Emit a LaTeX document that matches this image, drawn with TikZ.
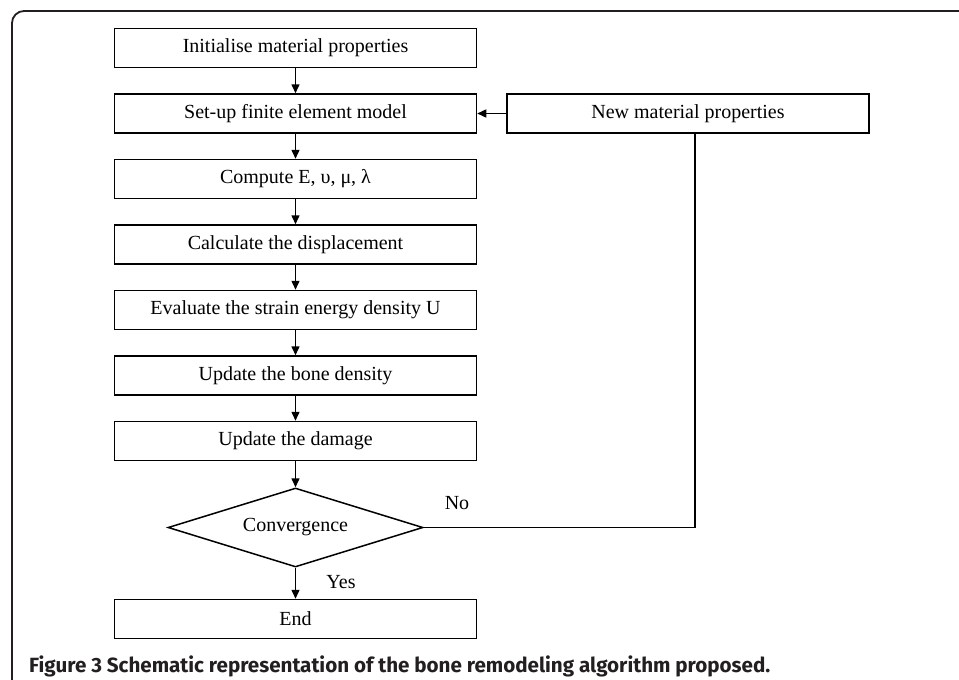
\documentclass[tikz,border=0pt]{standalone}
\usepackage{fontspec}
\setmainfont{Liberation Serif}
\newfontfamily\capfont{Fira Sans}
\usetikzlibrary{positioning,shapes.geometric,arrows.meta}
\definecolor{framegray}{HTML}{231F20}

\tikzset{
  box/.style={draw, line width=1.5pt, minimum width=362pt, minimum height=39pt,
    inner sep=0pt, font=\fontsize{20}{22}\selectfont},
  decision/.style={draw, diamond, line width=1.5pt, aspect=3.2, minimum width=255pt,
    minimum height=79pt, inner sep=0pt, font=\fontsize{20}{22}\selectfont},
  flow/.style={line width=1.5pt, -{Triangle[length=9pt,width=8pt]}},
  lbl/.style={font=\fontsize{20}{22}\selectfont},
}

\begin{document}
\begin{tikzpicture}[x=1pt, y=-1pt, node distance=25pt]
  \useasboundingbox (0,0) rectangle (959,680);
  \clip (0,0) rectangle (959,680);
  % Frame
  \draw[framegray, line width=1.8pt, rounded corners=12pt] (12,700) |- (990,11);
  % Define nodes
  \node[box]                     (init)    at (295.5,48) {Initialise material properties};
  \node[box, below=of init]      (setup)   {Set-up finite element model};
  \node[box, below=of setup]     (compute) {Compute E, υ, μ, λ};
  \node[box, below=of compute]   (displ)   {Calculate the displacement};
  \node[box, below=of displ]     (energy)  {Evaluate the strain energy density U};
  \node[box, below=of energy]    (density) {Update the bone density};
  \node[box, below=of density]   (damage)  {Update the damage};
  \node[decision, below=26pt of damage] (conv) {Convergence};
  \node[box, below=31pt of conv] (stop)    {End};
  \node[box, right=29pt of setup] (newmat) {New material properties};
  % Define labels
  \node[lbl] (no)  at (457,503) {No};
  \node[lbl] (yes) at (341,582) {Yes};
  % Define edges
  \draw[flow] (init) -- (setup);
  \draw[flow] (setup) -- (compute);
  \draw[flow] (compute) -- (displ);
  \draw[flow] (displ) -- (energy);
  \draw[flow] (energy) -- (density);
  \draw[flow] (density) -- (damage);
  \draw[flow] (damage) -- (conv);
  \draw[flow] (conv) -- (stop);
  \draw[line width=1.5pt] (conv.east) -| ([xshift=7pt]newmat.south);
  \draw[flow] (newmat) -- (setup);
  % Caption
  \node[anchor=base west, inner sep=0pt, text=framegray,
    font=\capfont\bfseries\fontsize{20.6}{23}\selectfont] (caption) at (29,672)
    {Figure 3 Schematic representation of the bone remodeling algorithm proposed.};
\end{tikzpicture}
\end{document}
